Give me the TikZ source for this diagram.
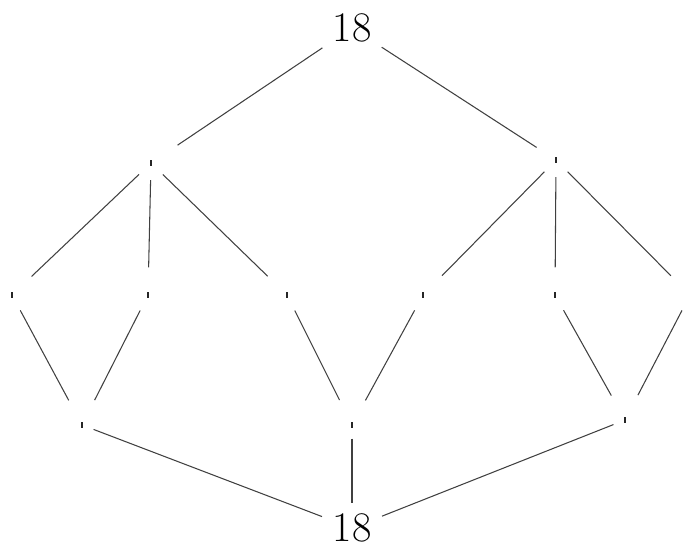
\documentclass[tikz,border=0pt]{standalone}
\begin{document}
\begin{tikzpicture}[x=0.02cm,y=-0.02cm,
		pt/.style={fill=black!85,inner sep=0pt,minimum width=1.6pt,minimum height=3pt},
		num/.style={font=\fontsize{24}{28}\selectfont,inner sep=4pt},
		ln/.style={black!75,line width=0.6pt,shorten <=8pt,shorten >=14pt}]
		\useasboundingbox (0,0) rectangle (688,551);
		
		\node[num] (top) at (352,28) {18};
		\node[num] (bot) at (352,528) {18};
		
		\node[pt] (l) at (151,163) {};
		\node[pt] (r) at (556,160) {};
		
		\node[pt] (a1) at (12,295) {};
		\node[pt] (a2) at (148,295) {};
		\node[pt] (a3) at (287,295) {};
		\node[pt] (a4) at (423,295) {};
		\node[pt] (a5) at (555,295) {};
		\node[pt] (a6) at (690,295) {};
		
		\node[pt] (b1) at (82,425) {};
		\node[pt] (b2) at (352,425) {};
		\node[pt] (b3) at (625,420) {};
		
		\draw[ln,shorten <=2pt,shorten >=17pt] (top) -- (l);
		\draw[ln,shorten <=2pt,shorten >=12pt] (top) -- (r);
		\foreach \x in {a1,a2,a3} \draw[ln] (l) -- (\x);
		\foreach \x in {a4,a5,a6} \draw[ln] (r) -- (\x);
		\draw[ln] (a1) -- (b1);
		\draw[ln] (a2) -- (b1);
		\draw[ln] (a3) -- (b2);
		\draw[ln] (a4) -- (b2);
		\draw[ln] (a5) -- (b3);
		\draw[ln] (a6) -- (b3);
		\draw[ln,shorten <=6pt,shorten >=2pt] (b1) -- (bot);
		\draw[ln,shorten <=6pt,shorten >=2pt] (b2) -- (bot);
		\draw[ln,shorten <=6pt,shorten >=2pt] (b3) -- (bot);
	\end{tikzpicture}
\end{document}
